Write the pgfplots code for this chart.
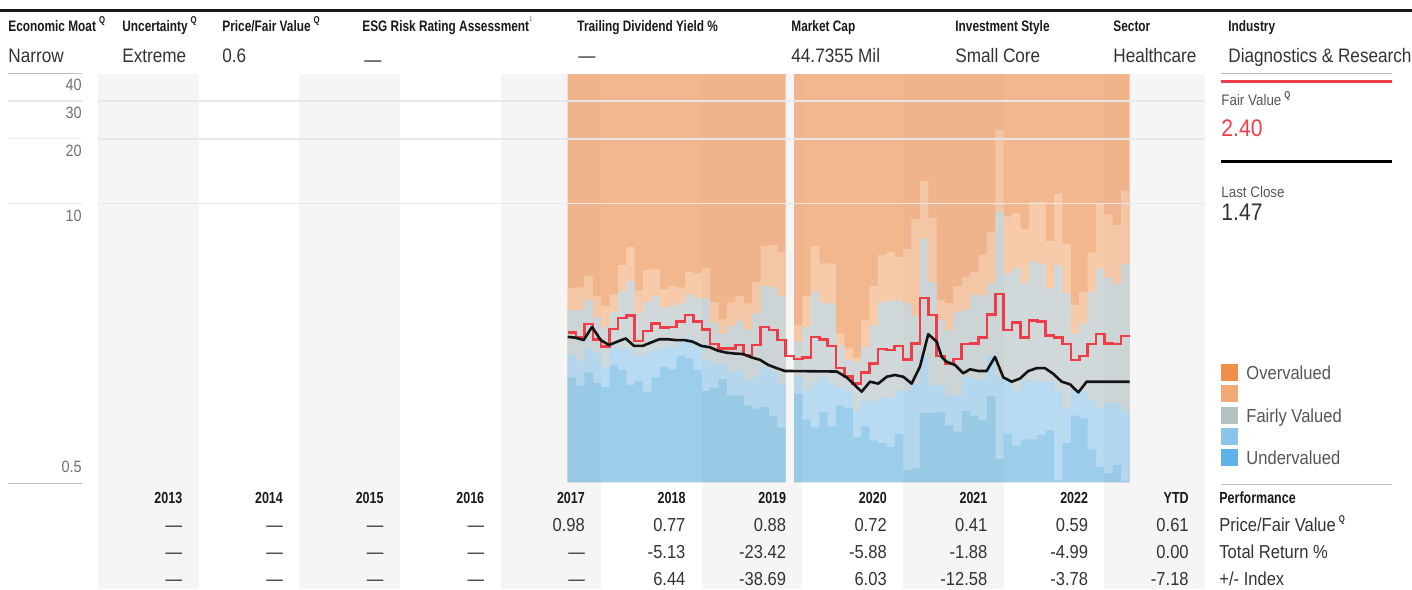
\documentclass[border=0pt]{standalone}
\usepackage{pgfplots}
\pgfplotsset{compat=1.18}
\usepackage{pgfplotstable}
\usepackage{fontspec}
\setmainfont{Liberation Sans}[FakeStretch=0.88]
\newfontfamily\hb{Liberation Sans}[FakeStretch=0.78]

\definecolor{cDO}{HTML}{F3B78E}
\definecolor{cLO}{HTML}{F7CBA9}
\definecolor{cGR}{HTML}{D0D8DA}
\definecolor{cLB}{HTML}{B8DBF1}
\definecolor{cBL}{HTML}{9BCEEA}
\definecolor{cCol}{HTML}{F5F5F5}
\definecolor{cRed}{HTML}{EE3D47}
\definecolor{cGrid}{HTML}{E8E8E8}
\definecolor{cLine}{HTML}{BDBDBD}
\definecolor{cTxt}{HTML}{333333}
\definecolor{cTxtB}{HTML}{1A1A1A}
\definecolor{cTxt2}{HTML}{555555}
\definecolor{cTick}{HTML}{707070}
\definecolor{lOv}{HTML}{F08E4A}
\definecolor{lOvB}{HTML}{F2A877}
\definecolor{lFa}{HTML}{B3C1C1}
\definecolor{lUnB}{HTML}{8AC4EA}
\definecolor{lUn}{HTML}{5DB3E5}

\newcommand\Qs{\hspace{1.5pt}\raisebox{0.45em}{\hb\bfseries\fontsize{5}{5}\selectfont Q}}
\newcommand\lab[1]{{\hb\bfseries\fontsize{7.6}{8}\selectfont #1}}
\newcommand\tb[1]{{\hb\bfseries\fontsize{8}{9}\selectfont #1}}
\newcommand\hv[1]{{\fontsize{9.75}{11}\selectfont #1}}
\newcommand\tv[1]{{\fontsize{9.4}{11}\selectfont #1}}

\pgfplotstableread{
x b1 b2 b3 b4 t
2017.667 1.54 1.98 3.18 4.01 40.17
2017.750 1.41 1.84 3.18 4.05 40.17
2017.833 1.62 2.10 3.54 4.58 40.17
2017.917 1.45 2.01 2.94 3.69 40.17
2018.000 1.39 1.73 2.65 3.32 40.17
2018.083 1.76 2.14 3.12 3.76 40.17
2018.167 1.67 2.14 3.87 5.15 40.17
2018.250 1.42 2.07 4.34 6.25 40.17
2018.333 1.48 1.92 3.07 3.91 40.17
2018.417 1.32 2.01 3.47 4.88 40.17
2018.500 1.54 2.07 3.69 4.93 40.17
2018.583 1.72 2.14 3.26 3.98 40.17
2018.667 1.68 2.14 3.32 4.11 40.17
2018.750 1.94 2.26 3.41 4.05 40.17
2018.833 1.89 2.34 3.76 4.79 40.17
2018.917 1.67 2.14 3.62 4.71 40.17
2019.000 1.33 1.86 3.57 4.97 40.17
2019.083 1.38 1.76 2.77 3.47 40.17
2019.167 1.51 1.79 2.45 2.87 40.17
2019.250 1.27 1.64 2.67 3.47 40.17
2019.333 1.27 1.67 2.83 3.69 40.17
2019.417 1.14 1.50 2.58 3.41 40.17
2019.500 1.10 1.55 3.07 4.31 40.17
2019.583 1.12 1.72 4.11 6.32 40.17
2019.667 1.02 1.64 4.05 6.39 40.17
2019.750 0.90 1.44 3.69 5.94 40.17
2019.833 0.90 1.44 3.69 5.94 40.17
}\segA

\pgfplotstableread{
x b1 b2 b3 b4 t
2019.917 1.29 1.55 2.26 2.70 40.17
2020.000 0.98 1.34 2.65 3.69 40.17
2020.083 0.90 1.47 3.87 6.32 40.17
2020.167 1.06 1.55 3.44 5.25 40.17
2020.250 0.91 1.44 3.41 5.25 40.17
2020.333 1.14 1.39 2.18 2.47 40.17
2020.417 1.11 1.33 1.86 2.10 40.17
2020.500 0.81 1.08 1.82 1.91 40.17
2020.583 0.91 1.21 2.14 2.85 40.17
2020.667 0.78 1.19 2.70 4.11 40.17
2020.750 0.76 1.25 3.47 5.74 40.17
2020.833 0.73 1.23 3.51 5.93 40.17
2020.917 0.84 1.34 3.51 5.61 40.17
2021.000 0.57 1.34 3.41 6.12 40.17
2021.083 0.58 1.44 2.96 8.45 40.17
2021.167 1.05 1.96 6.81 12.7 40.17
2021.250 1.05 1.42 4.31 8.54 40.17
2021.333 1.06 1.42 2.85 3.54 40.17
2021.417 0.92 1.27 2.56 3.42 40.17
2021.500 0.86 1.27 3.12 4.11 40.17
2021.583 1.07 1.55 3.18 4.53 40.17
2021.667 1.02 1.52 3.73 4.78 40.17
2021.750 0.97 1.51 3.73 5.74 40.17
2021.833 1.26 1.96 4.23 7.35 40.17
2021.917 0.64 1.55 9.14 22.0 40.17
2022.000 0.84 1.47 4.71 8.66 40.17
2022.083 0.74 1.34 4.97 9.01 40.17
2022.167 0.79 1.50 4.26 7.59 40.17
2022.250 0.79 1.48 5.34 10.14 40.17
2022.333 0.83 1.47 5.25 10.14 40.17
2022.417 0.87 1.47 4.01 6.67 40.17
2022.500 0.51 1.34 5.15 11.05 40.17
2022.583 0.76 1.10 3.80 6.46 40.17
2022.667 1.02 1.34 2.47 3.35 40.17
2022.750 0.99 1.33 2.75 3.85 40.17
2022.833 0.71 1.21 3.87 5.88 40.17
2022.917 0.59 1.12 4.97 9.93 40.17
2023.000 0.55 1.17 4.47 8.91 40.17
2023.083 0.60 1.17 4.23 7.94 40.17
2023.167 0.505 1.08 5.21 11.5 40.17
2023.250 0.505 1.08 5.21 11.5 40.17
}\segB

\pgfplotstableread{
x fv
2017.667 2.49
2017.750 2.38
2017.833 2.73
2017.917 2.32
2018.000 2.15
2018.083 2.59
2018.167 2.91
2018.250 2.99
2018.333 2.28
2018.417 2.53
2018.500 2.75
2018.583 2.64
2018.667 2.65
2018.750 2.80
2018.833 3.01
2018.917 2.80
2019.000 2.58
2019.083 2.20
2019.167 2.10
2019.250 2.10
2019.333 2.18
2019.417 1.96
2019.500 2.18
2019.583 2.65
2019.667 2.56
2019.750 2.30
2019.833 1.94
2019.917 1.88
2020.000 1.91
2020.083 2.38
2020.167 2.32
2020.250 2.16
2020.333 1.70
2020.417 1.55
2020.500 1.44
2020.583 1.62
2020.667 1.79
2020.750 2.09
2020.833 2.07
2020.917 2.16
2021.000 1.87
2021.083 2.22
2021.167 3.62
2021.250 3.01
2021.333 1.94
2021.417 1.78
2021.500 1.88
2021.583 2.20
2021.667 2.22
2021.750 2.37
2021.833 3.03
2021.917 3.77
2022.000 2.56
2022.083 2.77
2022.167 2.37
2022.250 2.83
2022.333 2.80
2022.417 2.41
2022.500 2.37
2022.583 2.20
2022.667 1.86
2022.750 1.94
2022.833 2.20
2022.917 2.45
2023.000 2.22
2023.083 2.20
2023.167 2.40
2023.250 2.40
}\fvt

\pgfplotstableread{
x p
2017.667 2.38
2017.743 2.36
2017.826 2.30
2017.909 2.65
2017.995 2.30
2018.078 2.18
2018.160 2.26
2018.243 2.34
2018.326 2.16
2018.412 2.16
2018.495 2.24
2018.577 2.32
2018.661 2.32
2018.743 2.30
2018.826 2.30
2018.909 2.26
2018.995 2.16
2019.078 2.13
2019.161 2.05
2019.243 2.01
2019.327 1.99
2019.409 1.98
2019.492 1.91
2019.578 1.86
2019.660 1.76
2019.744 1.70
2019.826 1.65
2020.340 1.64
2020.439 1.54
2020.505 1.44
2020.588 1.32
2020.671 1.47
2020.753 1.44
2020.837 1.55
2020.919 1.58
2021.002 1.55
2021.085 1.44
2021.168 1.73
2021.250 2.45
2021.334 2.26
2021.383 1.92
2021.433 1.82
2021.516 1.76
2021.598 1.61
2021.665 1.68
2021.747 1.65
2021.830 1.65
2021.913 1.92
2021.996 1.54
2022.079 1.47
2022.161 1.52
2022.244 1.65
2022.327 1.70
2022.410 1.70
2022.492 1.60
2022.576 1.47
2022.658 1.43
2022.741 1.31
2022.824 1.47
2023.250 1.47
}\pt

\begin{document}
\begin{tikzpicture}
\path[use as bounding box] (0pt,0pt) rectangle (706pt,-294.5pt);

\begin{axis}[at={(49pt,-241pt)}, anchor=south west, scale only axis,
  width=553.5pt, height=204pt, xmin=2013, xmax=2024,
  ymode=log, ymin=0.5, ymax=40.17, axis lines=none,
  xtick=\empty, ytick=\empty, clip=false]
% alternating year columns (background)
\fill[cCol] (axis cs:2013,0.158) rectangle (axis cs:2014,40.17);
\fill[cCol] (axis cs:2015,0.158) rectangle (axis cs:2016,40.17);
\fill[cCol] (axis cs:2017,0.158) rectangle (axis cs:2018,40.17);
\fill[cCol] (axis cs:2019,0.158) rectangle (axis cs:2020,40.17);
\fill[cCol] (axis cs:2021,0.158) rectangle (axis cs:2022,40.17);
\fill[cCol] (axis cs:2023,0.158) rectangle (axis cs:2024,40.17);
% segment A bands
\addplot[draw=none, fill=cDO, const plot] table[x=x,y=t]{\segA} -- (axis cs:2019.833,0.5) -- (axis cs:2017.667,0.5) -- cycle;
\addplot[draw=none, fill=cLO, const plot] table[x=x,y=b4]{\segA} -- (axis cs:2019.833,0.5) -- (axis cs:2017.667,0.5) -- cycle;
\addplot[draw=none, fill=cGR, const plot] table[x=x,y=b3]{\segA} -- (axis cs:2019.833,0.5) -- (axis cs:2017.667,0.5) -- cycle;
\addplot[draw=none, fill=cLB, const plot] table[x=x,y=b2]{\segA} -- (axis cs:2019.833,0.5) -- (axis cs:2017.667,0.5) -- cycle;
\addplot[draw=none, fill=cBL, const plot] table[x=x,y=b1]{\segA} -- (axis cs:2019.833,0.5) -- (axis cs:2017.667,0.5) -- cycle;
% segment B bands
\addplot[draw=none, fill=cDO, const plot] table[x=x,y=t]{\segB} -- (axis cs:2023.25,0.5) -- (axis cs:2019.917,0.5) -- cycle;
\addplot[draw=none, fill=cLO, const plot] table[x=x,y=b4]{\segB} -- (axis cs:2023.25,0.5) -- (axis cs:2019.917,0.5) -- cycle;
\addplot[draw=none, fill=cGR, const plot] table[x=x,y=b3]{\segB} -- (axis cs:2023.25,0.5) -- (axis cs:2019.917,0.5) -- cycle;
\addplot[draw=none, fill=cLB, const plot] table[x=x,y=b2]{\segB} -- (axis cs:2023.25,0.5) -- (axis cs:2019.917,0.5) -- cycle;
\addplot[draw=none, fill=cBL, const plot] table[x=x,y=b1]{\segB} -- (axis cs:2023.25,0.5) -- (axis cs:2019.917,0.5) -- cycle;
% subtle column tint over the bands
\fill[black, opacity=0.015] (axis cs:2017.667,0.5) rectangle (axis cs:2018,40.17);
\fill[black, opacity=0.015] (axis cs:2019,0.5) rectangle (axis cs:2019.833,40.17);
\fill[black, opacity=0.015] (axis cs:2019.917,0.5) rectangle (axis cs:2020,40.17);
\fill[black, opacity=0.015] (axis cs:2021,0.5) rectangle (axis cs:2022,40.17);
\fill[black, opacity=0.015] (axis cs:2023,0.5) rectangle (axis cs:2023.25,40.17);
% grid
\draw[cGrid, line width=0.75pt] (axis cs:2013,10) -- (axis cs:2024,10);
\draw[cGrid, line width=0.75pt] (axis cs:2013,20) -- (axis cs:2024,20);
\draw[cGrid, line width=0.75pt] (axis cs:2013,30) -- (axis cs:2024,30);
% fair value and price
\addplot[cRed, line width=1.3pt, const plot, mark=none] table[x=x,y=fv]{\fvt};
\addplot[black!92, line width=1.3pt, mark=none, line join=round] table[x=x,y=p]{\pt};
\end{axis}

\begin{scope}[x=0.5pt, y=-0.5pt]
% top rule
\draw[cTxtB, line width=1.5pt] (0,10.5) -- (1412,10.5);
% header labels
\begin{scope}[every node/.style={anchor=base west, inner sep=0pt, text=cTxtB}]
\node at (8,32) {\lab{Economic Moat}\Qs};
\node at (122,32) {\lab{Uncertainty}\Qs};
\node at (222,32) {\lab{Price/Fair Value}\Qs};
\node at (362,32) {\lab{ESG Risk Rating Assessment}\raisebox{0.55em}{\color{cTick}\fontsize{3.5}{4}\selectfont 1}};
\node at (577,32) {\lab{Trailing Dividend Yield \%}};
\node at (791,32) {\lab{Market Cap}};
\node at (955,32) {\lab{Investment Style}};
\node at (1113,32) {\lab{Sector}};
\node at (1228,32) {\lab{Industry}};
\end{scope}
\begin{scope}[every node/.style={anchor=base west, inner sep=0pt, text=cTxt}]
\node at (8,62) {\hv{Narrow}};
\node at (122,62) {\hv{Extreme}};
\node at (222,62) {\hv{0.6}};
\node at (364,66) {\hv{—}};
\node at (578,62) {\hv{—}};
\node at (791,62) {\hv{44.7355 Mil}};
\node at (955,62) {\hv{Small Core}};
\node at (1113,62) {\hv{Healthcare}};
\node at (1228,62) {\hv{Diagnostics \& Research}};
\end{scope}
% left axis labels and stubs
\draw[cLine, line width=0.5pt] (8,73.8) -- (82,73.8);
\draw[cGrid, line width=0.75pt] (8,100.8) -- (82,100.8);
\draw[cGrid, line width=0.75pt] (8,138.5) -- (82,138.5);
\draw[cGrid, line width=0.75pt] (8,203.3) -- (82,203.3);
\draw[cLine, line width=0.5pt] (8,483) -- (82,483);
\begin{scope}[every node/.style={anchor=east, inner sep=0pt, text=cTick, font=\fontsize{8.2}{9}\selectfont}]
\node at (82,85) {40};
\node at (82,113) {30};
\node at (82,151) {20};
\node at (82,216) {10};
\node at (82,467) {0.5};
\end{scope}
% right panel
\draw[cLine, line width=0.5pt] (1221,73.5) -- (1392,73.5);
\draw[cRed, line width=1.25pt] (1221,81.3) -- (1392,81.3);
\node[anchor=base west, inner sep=0pt, text=cTxt2] at (1221,105.5) {\fontsize{7.6}{9}\selectfont Fair Value\Qs};
\node[anchor=base west, inner sep=0pt, text=cRed] at (1221,136.5) {\fontsize{12}{14}\selectfont 2.40};
\draw[black, line width=1.25pt] (1221,161.7) -- (1392,161.7);
\node[anchor=base west, inner sep=0pt, text=cTxt2] at (1221,197.2) {\fontsize{7.6}{9}\selectfont Last Close};
\node[anchor=base west, inner sep=0pt, text=cTxt] at (1221,220.5) {\fontsize{12}{14}\selectfont 1.47};
\fill[lOv]  (1221,364) rectangle (1238,381);
\fill[lOvB] (1221,385) rectangle (1238,402);
\fill[lFa]  (1221,407) rectangle (1238,424);
\fill[lUnB] (1221,428) rectangle (1238,445);
\fill[lUn]  (1221,449) rectangle (1238,466);
\begin{scope}[every node/.style={anchor=base west, inner sep=0pt, text=cTxt2, font=\fontsize{9.4}{11}\selectfont}]
\node at (1246,379.5) {Overvalued};
\node at (1246,422.5) {Fairly Valued};
\node at (1246,464.5) {Undervalued};
\end{scope}
\draw[cLine, line width=0.5pt] (1221,484.3) -- (1392,484.3);
% bottom table
\foreach \i/\yl in {0/2013,1/2014,2/2015,3/2016,4/2017,5/2018,6/2019,7/2020,8/2021,9/2022,10/YTD}
  \node[anchor=base east, inner sep=0pt, text=cTxtB] at ({98+100.64*(\i+1)-16},503) {\tb{\yl}};
\foreach \i/\v in {0/—,1/—,2/—,3/—,4/0.98,5/0.77,6/0.88,7/0.72,8/0.41,9/0.59,10/0.61}
  \node[anchor=base east, inner sep=0pt, text=cTxt] at ({98+100.64*(\i+1)-16},531) {\tv{\v}};
\foreach \i/\v in {0/—,1/—,2/—,3/—,4/—,5/-5.13,6/-23.42,7/-5.88,8/-1.88,9/-4.99,10/0.00}
  \node[anchor=base east, inner sep=0pt, text=cTxt] at ({98+100.64*(\i+1)-16},558) {\tv{\v}};
\foreach \i/\v in {0/—,1/—,2/—,3/—,4/—,5/6.44,6/-38.69,7/6.03,8/-12.58,9/-3.78,10/-7.18}
  \node[anchor=base east, inner sep=0pt, text=cTxt] at ({98+100.64*(\i+1)-16},585) {\tv{\v}};
\node[anchor=base west, inner sep=0pt, text=cTxtB] at (1219,503) {\tb{Performance}};
\node[anchor=base west, inner sep=0pt, text=cTxt] at (1219,531) {\tv{Price/Fair Value}\Qs};
\node[anchor=base west, inner sep=0pt, text=cTxt] at (1219,558) {\tv{Total Return \%}};
\node[anchor=base west, inner sep=0pt, text=cTxt] at (1219,585) {\tv{+/- Index}};
\end{scope}
\end{tikzpicture}
\end{document}
